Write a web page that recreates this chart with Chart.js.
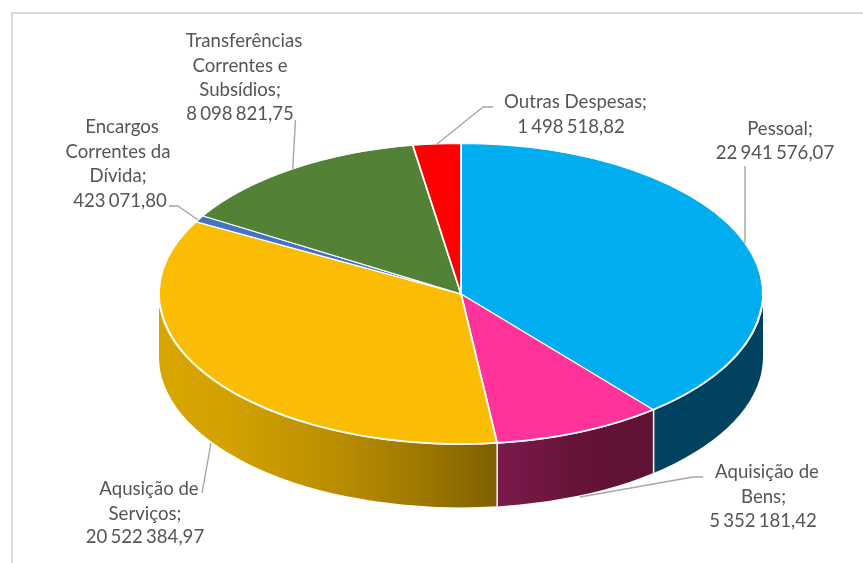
<!DOCTYPE html>
<html>
<head>
<meta charset="utf-8">
<style>html,body{margin:0;padding:0;background:#fff}canvas{display:block;filter:blur(0.45px)}</style>
<script src="https://cdn.jsdelivr.net/npm/chart.js@4"></script>
</head>
<body>
<canvas id="c" width="863" height="563"></canvas>
<script>
// Data
const categories = ['Pessoal','Aquisição de Bens','Aquisição de Serviços','Encargos Correntes da Dívida','Transferências Correntes e Subsídios','Outras Despesas'];
const values = [22941576.07,5352181.42,20522384.97,423071.80,8098821.75,1498518.82];
const valueLabels = ['22 941 576,07','5 352 181,42','20 522 384,97','423 071,80','8 098 821,75','1 498 518,82'];
const labelLines = [['Pessoal;'],['Aquisição de','Bens;'],['Aqusição de','Serviços;'],['Encargos','Correntes da','Dívida;'],['Transferências','Correntes e','Subsídios;'],['Outras Despesas;']];
const colors = ['#00AEEF','#FF3399','#FBBC04','#4472C4','#538135','#FF0000'];

// Styling and layout
const wallStops = [
  [[0,'#00425F'],[1,'#00425F']],
  [[0,'#7B1A4C'],[0.5,'#661338'],[1,'#5E1234']],
  [[0,'#D9A600'],[0.2,'#D4A200'],[0.55,'#B88C00'],[0.8,'#9A7500'],[1,'#7F6000']],
  null,null,null
];
const labelPos = [
  {x:[780,775],y:[129,153]},
  {x:[767,763.5,763],y:[472,497,521]},
  {x:[149,145,145],y:[489,514,537]},
  {x:[122,118,118,120],y:[127,152,176,201]},
  {x:[244,240,240,240],y:[41,66,90,114]},
  {x:[575.5,571],y:[102,127]}
];
const leaders = [
  [[745,166],[745,243]],
  [[703,477],[693,477],[580,497]],
  [[202,493],[211,443]],
  [[169,206],[178,206],[198,220]],
  [[295.5,120],[292.7,169]],
  [[493,107],[483,107],[437,144]]
];
const R = 302, RY = 150.5, CY = 294, DEPTH = 63, WALL_TOP = 14;
const FONT = '18.6px Lato, "Open Sans", sans-serif';
const NUMBER_WORD_SPACING = '-1.6px';

const pie3d = {
  id:'pie3d',
  beforeDraw(chart){
    const ctx = chart.ctx;
    ctx.save();
    ctx.fillStyle='#D9D9D9';
    ctx.fillRect(11,12,2,551);
    ctx.fillRect(11,12,852,2);
    ctx.restore();
  },
  beforeDatasetsDraw(chart){
    const ctx = chart.ctx, arcs = chart.getDatasetMeta(0).data;
    const cx = arcs[0].x, cy0 = arcs[0].y;
    // walls
    const seps=[];
    arcs.forEach((a,i)=>{
      const lo=Math.max(a.startAngle,0), hi=Math.min(a.endAngle,Math.PI);
      if(hi<=lo||!wallStops[i]) return;
      const xr=lo>0?cx+R*Math.cos(lo):cx+R+2, xl=hi<Math.PI?cx+R*Math.cos(hi):cx-R-2;
      ctx.save();
      ctx.beginPath(); ctx.rect(xl,0,xr-xl,chart.height); ctx.clip();
      const g=ctx.createLinearGradient(xl,0,xr,0);
      wallStops[i].forEach(s=>g.addColorStop(s[0],s[1]));
      ctx.fillStyle=g;
      ctx.beginPath();
      ctx.ellipse(cx,CY+DEPTH,R,RY,0,0,Math.PI);
      ctx.lineTo(cx-R,CY+WALL_TOP);
      ctx.lineTo(cx+R,CY+WALL_TOP);
      ctx.closePath(); ctx.fill();
      ctx.restore();
      if(lo>0) seps.push(lo);
    });
    ctx.save();
    ctx.strokeStyle='#F4F4F4'; ctx.lineWidth=1.6;
    seps.forEach(t=>{
      const x=cx+R*Math.cos(t), y=CY+RY*Math.sin(t);
      ctx.beginPath(); ctx.moveTo(x,y); ctx.lineTo(x,y+DEPTH); ctx.stroke();
    });
    ctx.restore();
    // squash the pie into its ellipse
    ctx.save();
    ctx.translate(cx,CY); ctx.scale(1,RY/R); ctx.translate(-cx,-cy0);
  },
  afterDatasetsDraw(chart){
    const ctx = chart.ctx, cx = chart.getDatasetMeta(0).data[0].x;
    ctx.restore();
    // front rim
    ctx.save();
    ctx.strokeStyle='#FFFFFF'; ctx.lineWidth=1.6;
    ctx.beginPath(); ctx.ellipse(cx,CY,R-0.5,RY-0.5,0,0.09,Math.PI-0.09); ctx.stroke();
    // leaders
    ctx.strokeStyle='#A6A6A6'; ctx.lineWidth=1.4; ctx.lineJoin='round';
    leaders.forEach(l=>{
      ctx.beginPath();
      l.forEach((p,i)=> i?ctx.lineTo(p[0],p[1]):ctx.moveTo(p[0],p[1]));
      ctx.stroke();
    });
    // labels
    ctx.font=FONT; ctx.fillStyle='#555555'; ctx.textAlign='center'; ctx.textBaseline='middle';
    labelPos.forEach((p,i)=>{
      const lines=labelLines[i].concat([valueLabels[i]]);
      lines.forEach((t,k)=>{
        ctx.wordSpacing = k===lines.length-1 ? NUMBER_WORD_SPACING : '0px';
        ctx.fillText(t,p.x[k],p.y[k]);
      });
    });
    ctx.restore();
  }
};

new Chart(document.getElementById('c'),{
  type:'pie',
  data:{labels:categories,datasets:[{data:values,backgroundColor:colors,borderColor:'#FFFFFF',borderWidth:1.8,clip:false,radius:R}]},
  options:{
    responsive:false,animation:false,
    layout:{padding:{left:59}},
    plugins:{legend:{display:false},tooltip:{enabled:false}}
  },
  plugins:[pie3d]
});
</script>
</body>
</html>
